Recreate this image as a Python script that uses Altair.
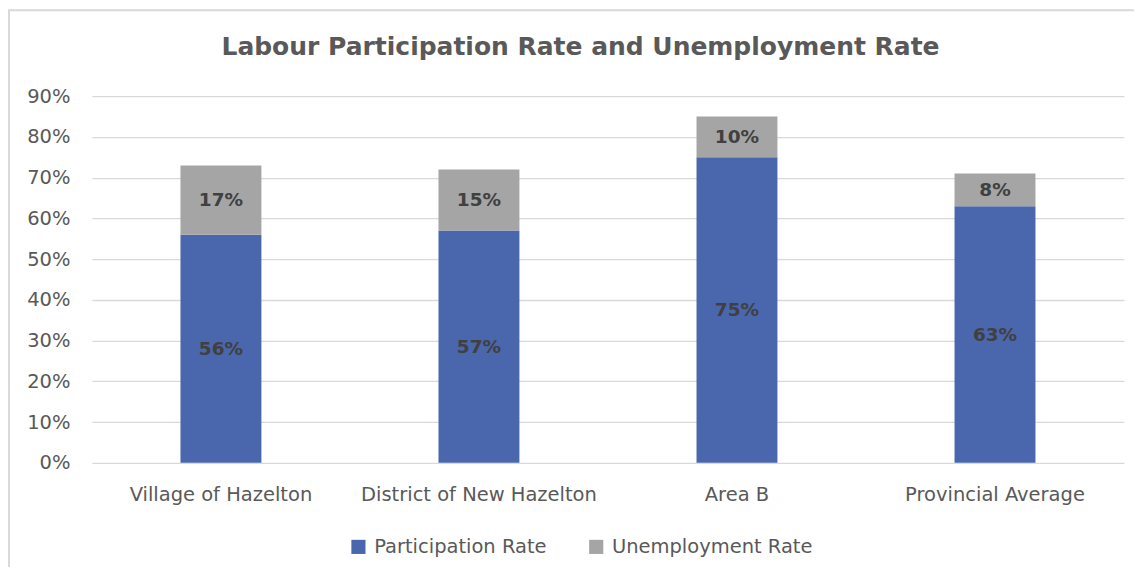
import altair as alt
import pandas as pd

categories = ["Village of Hazelton", "District of New Hazelton", "Area B", "Provincial Average"]
participation = [56, 57, 75, 63]
unemployment = [17, 15, 10, 8]
series_names = ["Participation Rate", "Unemployment Rate"]
colors = ["#4A66AC", "#A5A5A5"]
title_text = "Labour Participation Rate and Unemployment Rate"

rows = []
for i, c in enumerate(categories):
    rows.append({"cat": c, "series": series_names[0], "value": participation[i] / 100, "ord": 0})
    rows.append({"cat": c, "series": series_names[1], "value": unemployment[i] / 100, "ord": 1})
df = pd.DataFrame(rows)

FONT = "DejaVu Sans"
W, H = 1033, 367

one = alt.Chart(pd.DataFrame({"t": [title_text]}))

frame = one.mark_rect(
    fillOpacity=0, stroke="#D9D9D9", strokeWidth=2
).encode(x=alt.value(-83), x2=alt.value(1200), y=alt.value(-86), y2=alt.value(700))

title = one.mark_text(
    fontSize=25, fontWeight="bold", color="#595959", font=FONT, align="center", baseline="middle"
).encode(x=alt.value(489), y=alt.value(-49), text="t:N")

base = alt.Chart(df).transform_stack(
    stack="value", as_=["y0", "y1"], groupby=["cat"], sort=[alt.SortField("ord", order="ascending")]
).transform_calculate(mid="(datum.y0 + datum.y1) / 2")

bars = base.mark_bar(size=81).encode(
    x=alt.X("cat:N", sort=categories, title=None,
            axis=alt.Axis(labelAngle=0, labelFontSize=19.5, labelColor="#595959", labelFont=FONT,
                          ticks=False, domain=False, labelPadding=23, grid=False, labelLimit=400)),
    y=alt.Y("y0:Q", title=None, scale=alt.Scale(domain=[0, 0.9]),
            axis=alt.Axis(format=".0%", values=[i / 10 for i in range(10)], labelFontSize=19.5,
                          labelColor="#595959", labelFont=FONT, ticks=False, domain=False,
                          labelPadding=22, gridColor="#D9D9D9", gridWidth=1.3)),
    y2="y1:Q",
    color=alt.Color("series:N", scale=alt.Scale(domain=series_names, range=colors), title=None,
                    legend=alt.Legend(orient="none", legendX=257, legendY=441, direction="horizontal",
                                      symbolType="square", symbolSize=200, symbolStrokeWidth=0,
                                      labelFontSize=19.5, labelColor="#595959", labelFont=FONT,
                                      columnPadding=39, symbolOffset=0, labelOffset=6,
                                      labelLimit=400)),
)

labels = base.mark_text(fontSize=18.5, fontWeight="bold", color="#404040", font=FONT).encode(
    x=alt.X("cat:N", sort=categories),
    y=alt.Y("mid:Q"),
    text=alt.Text("value:Q", format=".0%"),
)

chart = alt.layer(frame, title, bars, labels).properties(
    width=W, height=H,
    autosize=alt.AutoSizeParams(type="none"),
    padding={"left": 84, "top": 88, "right": 10, "bottom": 104},
).configure_view(stroke=None).configure_scale(bandPaddingInner=0.69, bandPaddingOuter=0.345)

chart.save("out.html", embed_options={"renderer": "svg", "actions": False})
